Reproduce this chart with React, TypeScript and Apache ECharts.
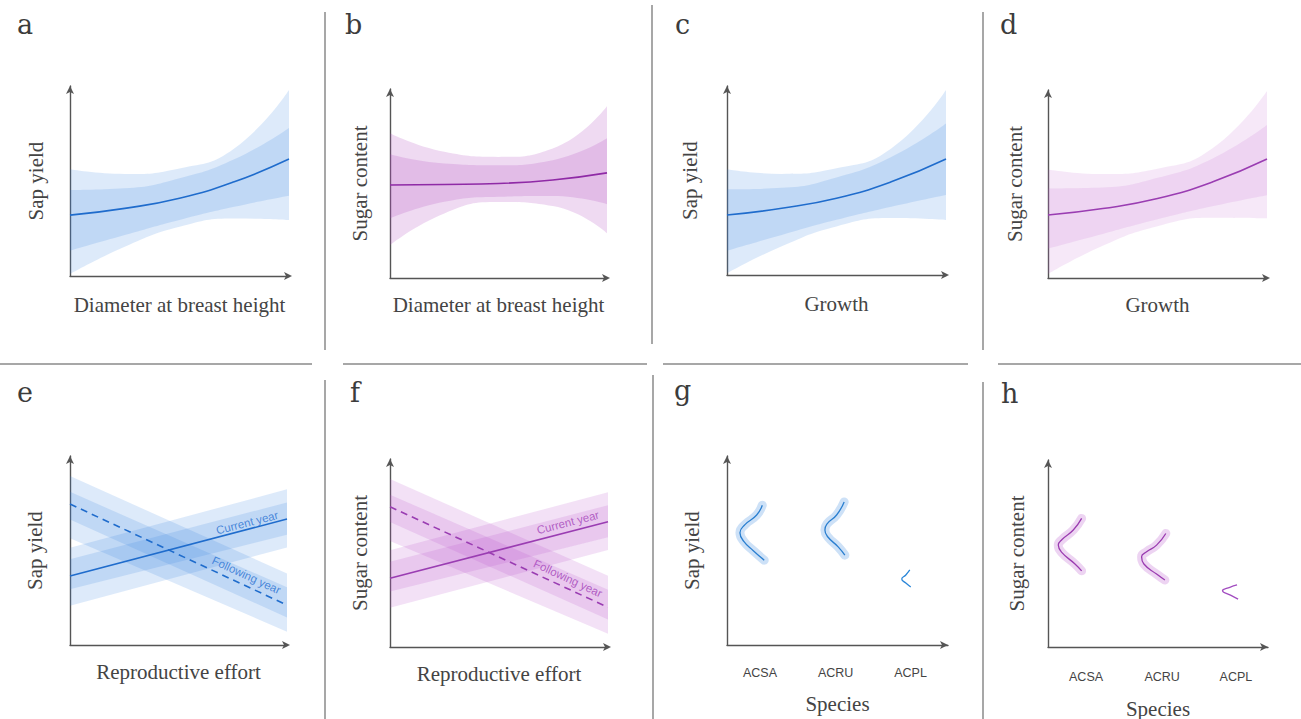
import React, { useEffect, useRef } from 'react';
import * as echarts from 'echarts';

const FONT_SERIF = '"Liberation Serif", "Times New Roman", serif';
const FONT_SANS = '"Liberation Sans", Arial, sans-serif';

// ---------- data (arbitrary units 0..10) ----------
const xKnots = ['0', '2.5', '5', '7.5', '10'];
const xEnds = ['0', '10'];

// a: Sap yield vs DBH
const aMid = [3.14, 3.49, 4.01, 4.86, 6.03];
const aInnerHi = [4.43, 4.52, 5.04, 6.02, 7.64];
const aInnerLo = [1.3, 2.11, 2.89, 3.57, 4.14];
const aOuterHi = [5.5, 5.26, 5.55, 6.58, 9.59];
const aOuterLo = [0.1, 1.51, 2.54, 2.97, 2.89];

// b: Sugar content vs DBH
const bMid = [4.82, 4.85, 4.9, 5.08, 5.45];
const bInnerHi = [6.42, 5.94, 5.85, 6.11, 7.24];
const bInnerLo = [3.09, 3.95, 4.21, 4.25, 3.83];
const bOuterHi = [7.5, 6.54, 6.28, 6.72, 8.91];
const bOuterLo = [1.71, 3.35, 3.94, 3.73, 2.32];

// c: Sap yield vs Growth
const cMid = [3.11, 3.46, 3.98, 4.83, 6.01];
const cInnerHi = [4.44, 4.52, 5.06, 6.12, 7.86];
const cInnerLo = [1.26, 2.08, 2.86, 3.54, 4.15];
const cOuterHi = [5.48, 5.24, 5.53, 6.56, 9.59];
const cOuterLo = [0.09, 1.49, 2.52, 2.95, 2.85];

// d: Sugar content vs Growth
const dMid = [3.28, 3.62, 4.14, 5.0, 6.2];
const dInnerHi = [4.67, 4.72, 5.22, 6.22, 7.97];
const dInnerLo = [1.54, 2.3, 3.06, 3.74, 4.32];
const dOuterHi = [5.66, 5.42, 5.7, 6.75, 9.75];
const dOuterLo = [0.21, 1.68, 2.7, 3.14, 3.11];

// e/f: reproductive effort, current vs following year
const curMid = [3.58, 6.53];
const curInnerHi = [4.44, 7.39];
const curInnerLo = [2.89, 5.72];
const curOuterHi = [5.04, 8.07];
const curOuterLo = [2.04, 5.06];
const folMid = [7.31, 2.07];
const folInnerHi = [7.94, 2.99];
const folInnerLo = [6.51, 1.43];
const folOuterHi = [8.76, 3.71];
const folOuterLo = [5.53, 0.69];

// g/h: species
const species = ['ACSA', 'ACRU', 'ACPL'];
const gSpeciesPos = [0.44, 1.45, 2.45];
const hSpeciesPos = [0.51, 1.53, 2.52];

const gACSA = [[0.471, 7.25], [0.396, 6.74], [0.24, 6.24], [0.173, 5.82], [0.227, 5.36], [0.351, 4.89], [0.497, 4.4]];
const gACRU = [[1.564, 7.42], [1.463, 6.74], [1.333, 6.27], [1.307, 5.96], [1.347, 5.6], [1.484, 5.09], [1.573, 4.66]];
const gACPL = [[2.44, 3.89], [2.387, 3.63], [2.333, 3.42], [2.387, 3.21], [2.453, 3.01]];
const hACSA = [[0.451, 6.74], [0.339, 6.13], [0.188, 5.63], [0.138, 5.34], [0.181, 4.97], [0.362, 4.35], [0.451, 3.99]];
const hACRU = [[1.58, 5.95], [1.456, 5.34], [1.322, 4.99], [1.255, 4.73], [1.286, 4.35], [1.456, 3.82], [1.567, 3.51]];
const hACPL = [[2.535, 3.25], [2.438, 3.13], [2.34, 2.95], [2.447, 2.72], [2.549, 2.51]];

// ---------- layout ----------
const grids = [
  { left: 70, top: 86, width: 219, height: 190 },
  { left: 390, top: 89, width: 217, height: 189 },
  { left: 727, top: 86, width: 219, height: 189 },
  { left: 1048, top: 90, width: 219, height: 188 },
  { left: 70, top: 456, width: 217, height: 189 },
  { left: 390, top: 459, width: 218, height: 188 },
  { left: 727, top: 456, width: 221, height: 189 },
  { left: 1048, top: 460, width: 220, height: 187 },
];

const xNames = ['Diameter at breast height', 'Diameter at breast height', 'Growth', 'Growth', 'Reproductive effort', 'Reproductive effort', 'Species', 'Species'];
const yNames = ['Sap yield', 'Sugar content', 'Sap yield', 'Sugar content', 'Sap yield', 'Sugar content', 'Sap yield', 'Sugar content'];
const xNameGaps = [18, 16, 18, 16, 16, 16, 48, 51];
const yNameGaps = [24, 20, 27, 23, 25, 20, 25, 21];

const BLUE_BAND = 'rgba(50,128,225,0.165)';
const BLUE_LINE = '#1f6ccc';
const CAT = 8; // index offset of the hidden category axes used by the bands

function band(gi: number, lo: number[], hi: number[], color: string, id: string, smooth: boolean) {
  return [
    {
      type: 'line', xAxisIndex: CAT + gi, yAxisIndex: gi, stack: id, smooth, symbol: 'none', silent: true,
      data: lo, lineStyle: { opacity: 0, width: 0 },
    },
    {
      type: 'line', xAxisIndex: CAT + gi, yAxisIndex: gi, stack: id, smooth, symbol: 'none', silent: true,
      data: hi.map((v, i) => v - lo[i]), lineStyle: { opacity: 0, width: 0 },
      areaStyle: { color, opacity: 1 },
    },
  ];
}

function catLine(gi: number, data: number[], color: string, width: number, smooth: boolean, type: any = 'solid') {
  return {
    type: 'line', xAxisIndex: CAT + gi, yAxisIndex: gi, smooth, symbol: 'none', silent: true, data,
    lineStyle: { color, width, type },
  };
}

function xyLine(gi: number, data: number[][], color: string, width: number, cap = 'butt') {
  return {
    type: 'line', xAxisIndex: gi, yAxisIndex: gi, smooth: true, symbol: 'none', silent: true, data,
    lineStyle: { color, width, cap, join: 'round' },
  };
}

function curvePanel(gi: number, mid: number[], ih: number[], il: number[], oh: number[], ol: number[], bandColor: string, lineColor: string) {
  return [
    ...band(gi, ol, oh, bandColor, 'o' + gi, true),
    ...band(gi, il, ih, bandColor, 'i' + gi, true),
    catLine(gi, mid, lineColor, 1.6, true),
  ];
}

function effortPanel(gi: number, bandColor: string, lineColor: string) {
  return [
    ...band(gi, curOuterLo, curOuterHi, bandColor, 'co' + gi, false),
    ...band(gi, curInnerLo, curInnerHi, bandColor, 'ci' + gi, false),
    ...band(gi, folOuterLo, folOuterHi, bandColor, 'fo' + gi, false),
    ...band(gi, folInnerLo, folInnerHi, bandColor, 'fi' + gi, false),
    catLine(gi, curMid, lineColor, 1.6, false),
    catLine(gi, folMid, lineColor, 1.6, false, [7, 5]),
  ];
}

function annotation(gi: number, x: number, y: number, text: string, rotate: number, color: string) {
  return {
    type: 'scatter', xAxisIndex: gi, yAxisIndex: gi, silent: true, symbolSize: 0.1,
    itemStyle: { color: 'rgba(0,0,0,0)' }, data: [[x, y]],
    label: { show: true, position: 'inside', formatter: text, rotate, color, fontSize: 11.5, fontFamily: FONT_SANS },
  };
}

function violin(gi: number, data: number[][], halo: string | null, color: string) {
  const out: any[] = [];
  if (halo) out.push(xyLine(gi, data, halo, 9, 'round'));
  out.push(xyLine(gi, data, color, 1.3));
  return out;
}

function buildOption() {
  const lineStyle = { color: '#555', width: 1.4 };
  const xAxisLine = { show: true, onZero: false, symbol: ['none', 'arrow'], symbolSize: [6, 8], symbolOffset: [0, 3], lineStyle };
  const xAxisLineSp = { show: true, onZero: false, symbol: ['none', 'arrow'], symbolSize: [6, 8], lineStyle };
  const yAxisLine = { show: true, onZero: false, symbol: ['none', 'arrow'], symbolSize: [6, 8], lineStyle };
  const nameStyle = { fontFamily: FONT_SERIF, fontSize: 21, color: '#444' };

  const xAxis: any[] = grids.map((_, gi) => {
    const isSpecies = gi >= 6;
    const pos = gi === 6 ? gSpeciesPos : hSpeciesPos;
    return {
      gridIndex: gi, type: 'value', min: 0, max: isSpecies ? 2.95 : 10,
      axisLine: isSpecies ? xAxisLineSp : xAxisLine, axisTick: { show: false }, splitLine: { show: false },
      axisLabel: isSpecies
        ? {
            show: true, customValues: pos, margin: gi === 6 ? 21 : 23,
            color: '#444', fontSize: 12.5, fontFamily: FONT_SANS,
            formatter: (v: number) => {
              const idx = pos.findIndex((p) => Math.abs(p - v) < 0.02);
              return idx >= 0 ? species[idx] : '';
            },
          }
        : { show: false },
      name: xNames[gi], nameLocation: 'middle', nameGap: xNameGaps[gi], nameTextStyle: nameStyle,
    };
  });
  // hidden category axes carrying the band / line knots of panels a–f
  for (let gi = 0; gi < 6; gi++) {
    xAxis.push({
      gridIndex: gi, type: 'category', show: false, boundaryGap: false,
      data: gi >= 4 ? xEnds : xKnots,
    });
  }

  const yAxis = grids.map((_, gi) => ({
    gridIndex: gi, type: 'value', min: 0, max: 9.8,
    axisLine: yAxisLine, axisTick: { show: false }, splitLine: { show: false }, axisLabel: { show: false },
    name: yNames[gi], nameLocation: 'middle', nameRotate: 90, nameGap: yNameGaps[gi], nameTextStyle: nameStyle,
  }));

  const series: any[] = [
    ...curvePanel(0, aMid, aInnerHi, aInnerLo, aOuterHi, aOuterLo, BLUE_BAND, BLUE_LINE),
    ...curvePanel(1, bMid, bInnerHi, bInnerLo, bOuterHi, bOuterLo, 'rgba(175,70,190,0.2)', '#8f2aa6'),
    ...curvePanel(2, cMid, cInnerHi, cInnerLo, cOuterHi, cOuterLo, BLUE_BAND, BLUE_LINE),
    ...curvePanel(3, dMid, dInnerHi, dInnerLo, dOuterHi, dOuterLo, 'rgba(190,90,205,0.14)', '#9a3db2'),
    ...effortPanel(4, BLUE_BAND, BLUE_LINE),
    ...effortPanel(5, 'rgba(185,80,200,0.17)', '#9a3db2'),
    annotation(4, 8.16, 6.34, 'Current year', 14.5, BLUE_LINE),
    annotation(4, 8.13, 3.62, 'Following year', -24.8, BLUE_LINE),
    annotation(5, 8.16, 6.49, 'Current year', 14.5, '#9a3db2'),
    annotation(5, 8.16, 3.58, 'Following year', -24.8, '#9a3db2'),
    ...violin(6, gACSA, 'rgba(60,140,225,0.26)', '#2a7fd0'),
    ...violin(6, gACRU, 'rgba(60,140,225,0.26)', '#2a7fd0'),
    ...violin(6, gACPL, null, '#2a86d8'),
    ...violin(7, hACSA, 'rgba(190,100,210,0.28)', '#9a3cb0'),
    ...violin(7, hACRU, 'rgba(190,100,210,0.28)', '#9a3cb0'),
    ...violin(7, hACPL, null, '#a24cc0'),
  ];

  const divider = (x1: number, y1: number, x2: number, y2: number) => ({
    type: 'line', silent: true, shape: { x1, y1, x2, y2 }, style: { stroke: '#8a8a8a', lineWidth: 1.5 },
  });
  const letter = (t: string, x: number, y: number) => ({
    type: 'text', silent: true, x, y,
    style: { text: t, fill: '#3c3c3c', font: '27px "DejaVu Serif", serif', verticalAlign: 'top', align: 'left' },
  });

  const graphic = [
    divider(325, 12, 325, 350),
    divider(652, 5, 652, 344),
    divider(983, 12, 983, 350),
    divider(325, 380, 325, 719),
    divider(653, 375, 653, 719),
    divider(983, 382, 983, 719),
    divider(0, 364, 312, 364),
    divider(343, 364, 647, 364),
    divider(663, 364, 968, 364),
    divider(998, 364, 1301, 364),
    letter('a', 17, 11),
    letter('b', 345, 11),
    letter('c', 675, 11),
    letter('d', 1000, 11),
    letter('e', 17, 379),
    letter('f', 350, 379),
    letter('g', 674, 377),
    letter('h', 1001, 380),
  ];

  return {
    animation: false,
    backgroundColor: '#ffffff',
    grid: grids.map((g) => ({ ...g, containLabel: false, outerBoundsMode: 'none' })),
    xAxis,
    yAxis,
    series,
    graphic,
  };
}

export default function App() {
  const ref = useRef<HTMLDivElement>(null);
  useEffect(() => {
    if (!ref.current) return;
    const chart = echarts.init(ref.current, undefined, { renderer: 'svg' });
    chart.setOption(buildOption() as any);
    return () => chart.dispose();
  }, []);
  return (
    <div
      ref={ref}
      style={{ position: 'fixed', left: 0, top: 0, width: 1301, height: 719, background: '#fff' }}
    />
  );
}
